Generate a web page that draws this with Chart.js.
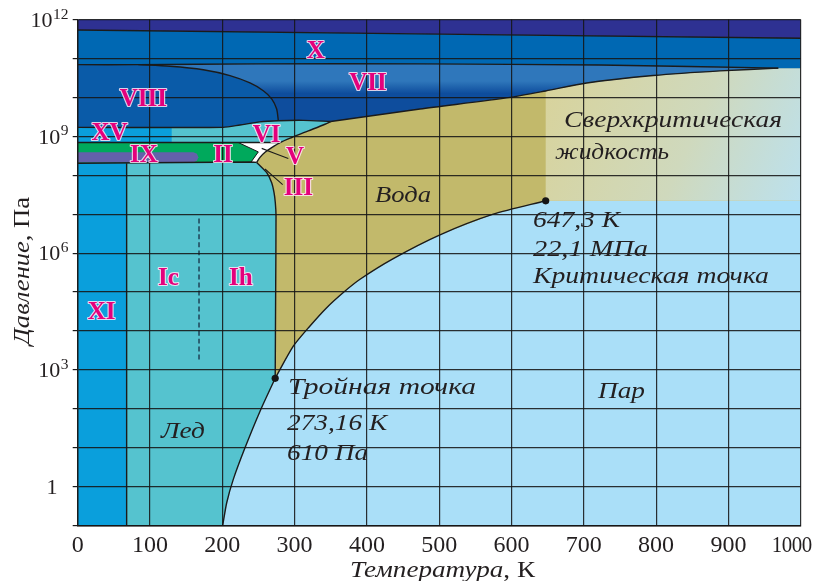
<!DOCTYPE html>
<html lang="ru">
<head>
<meta charset="utf-8">
<title>Фазовая диаграмма воды</title>
<script src="https://cdn.jsdelivr.net/npm/chart.js@4.4.1/dist/chart.umd.min.js"></script>
<style>
  html, body { margin: 0; padding: 0; background: #fff; }
  canvas { display: block; }
</style>
</head>
<body>
<canvas id="phase" width="821" height="581"></canvas>
<script>
// Temperature in K; pressure stored as lg(P / Pa)
const temperatureTicks = [0, 100, 200, 300, 400, 500, 600, 700, 800, 900, 1000];
const pressureDecades = [-1, 0, 1, 2, 3, 4, 5, 6, 7, 8, 9, 10, 11, 12];
const pressureLabelExponents = [0, 3, 6, 9, 12];

const triplePoint = [273.16, Math.log10(610)];      // 273,16 K, 610 Па
const criticalPoint = [647.3, Math.log10(22.1e6)];  // 647,3 K, 22,1 МПа

// Phase boundaries [T, lg P]
const sublimationCurve = [[200.5, -1], [206.1, -0.41], [215.2, 0.19], [231.4, 1.00], [252.2, 1.94], triplePoint];
const vaporizationCurve = [triplePoint, [298.2, 3.61], [321.3, 4.13], [344.4, 4.60], [367.4, 4.99], [390.5, 5.33],
  [436.5, 5.86], [501.1, 6.47], [574.8, 7.00], criticalPoint];
const meltingIhCurve = [triplePoint, [273.8, 5.0], [274.3, 6.96], [273.3, 7.30], [271.5, 7.56], [268.3, 7.81],
  [261.4, 8.07], [247.6, 8.33]];
const meltingHighCurve = [[247.6, 8.33], [252.1, 8.46], [259.1, 8.59], [268.3, 8.71], [279.8, 8.84], [296, 8.97],
  [319, 9.14], [342, 9.31], [350, 9.38]];
const meltingVIICurve = [[350, 9.38], [473.4, 9.70], [597.9, 10.0], [647.3, 10.165], [704, 10.37], [796, 10.56],
  [888.4, 10.68], [969, 10.75]];
const viBaseLine = [[0, 9.23], [201, 9.23], [224.5, 9.29], [252, 9.37], [277.5, 9.40], [312, 9.41], [350, 9.38]];
const viiiDome = [[83.8, 10.84], [127.7, 10.80], [173.7, 10.71], [210.6, 10.56], [238.3, 10.37], [256.7, 10.17],
  [268.3, 9.96], [275.2, 9.70], [277.5, 9.40]];
const xViiLine = [[0, 10.84], [83.8, 10.84], [250, 10.86], [473, 10.86], [722, 10.83], [969, 10.75]];
const topBandLine = [[0, 11.73], [1000, 11.52]];
const iceIITop = [[0, 8.84], [222.1, 8.84], [279.8, 8.84]];
const iceIIBase = [[0, 8.31], [239.8, 8.34], [247.6, 8.33]];
const iceIITip = [[222.1, 8.84], [249.8, 8.60], [239.8, 8.34]];
const iceIXBand = [[0, 8.59], [160, 8.59], [164.9, 8.55], [166.9, 8.46], [164.9, 8.37], [160, 8.33], [0, 8.33]];
const iceXIEdge = 67.7;
const iceXVEdge = 130;
const icIhDivider = [[167.8, 3.27], [167.8, 6.92]];
const pointerV = [[254.5, 8.69], [291.3, 8.43]];
const pointerIII = [[259.1, 8.16], [283.5, 7.76]];

// Text drawn on the diagram
const phaseNames = ['X', 'VII', 'VIII', 'XV', 'IX', 'II', 'VI', 'V', 'III', 'Ic', 'Ih', 'XI'];
const phaseNameAt = [[329.2, 11.23], [401.5, 10.39], [90.7, 9.98], [44.0, 9.11], [91.7, 8.56], [201.0, 8.56],
  [261.4, 9.08], [300.5, 8.51], [305.1, 7.70], [125.6, 5.39], [225.6, 5.39], [33.2, 4.53]];
const noteTexts = ['Вода', 'Сверхкритическая', 'жидкость', '647,3 К', '22,1 МПа', 'Критическая точка',
  'Тройная точка', '273,16 К', '610 Па', 'Пар', 'Лед'];
const noteAt = [[411.3, 7.31], [672.6, 9.23], [660.2, 8.41], [629.7, 6.66], [629.7, 5.93], [629.7, 5.24],
  [290.9, 2.37], [289.5, 1.47], [289.5, 0.70], [719.6, 2.27], [115.2, 1.26]];
const noteWidths = [56, 218, 114, 87, 115, 236, 188, 100, 81, 47, 44];

// ---- helpers ----
const rev = a => a.slice().reverse();
const toPoints = a => a.map(([t, e]) => ({ x: t, y: 10 ** e }));
const SERIF = '"Liberation Serif", "Times New Roman", serif';

function area(poly, color) {
  return { data: toPoints(poly), fill: 'shape', backgroundColor: color, borderWidth: 0,
    borderColor: 'transparent', pointRadius: 0, tension: 0 };
}
function edge(line, width = 1.4, color = '#1b1b1b', dash = [], tension = 0.25) {
  return { data: toPoints(line), fill: false, borderColor: color, borderWidth: width, borderDash: dash,
    pointRadius: 0, tension, borderCapStyle: 'butt', borderJoinStyle: 'round' };
}
function pressureGradient(top, bottom, topColor, bottomColor) {
  return (c) => {
    const ch = c.chart;
    if (!ch.chartArea || !ch.scales.y) return bottomColor;
    const y = ch.scales.y;
    const g = ch.ctx.createLinearGradient(0, y.getPixelForValue(10 ** top), 0, y.getPixelForValue(10 ** bottom));
    g.addColorStop(0, topColor);
    g.addColorStop(1, bottomColor);
    return g;
  };
}
function supercriticalFill(c) {
  const ch = c.chart;
  if (!ch.chartArea || !ch.scales.y) return '#cfd9be';
  const x = ch.scales.x, y = ch.scales.y;
  const g = ch.ctx.createLinearGradient(x.getPixelForValue(criticalPoint[0]), y.getPixelForValue(10 ** 10.2),
    x.getPixelForValue(1000), y.getPixelForValue(10 ** criticalPoint[1]));
  g.addColorStop(0, '#d8d39c');
  g.addColorStop(0.55, '#cfd9bd');
  g.addColorStop(1, '#bce1ee');
  return g;
}

// ---- region polygons ----
const vaporRegion = [[0, -1], [1000, -1], [1000, 12], [0, 12]];
const fluidRegion = [...vaporizationCurve, [1000, criticalPoint[1]], [1000, 10.75], ...rev(meltingVIICurve),
  ...rev(meltingHighCurve), ...rev(meltingIhCurve)];
const supercriticalRegion = [criticalPoint, [1000, criticalPoint[1]], [1000, 10.75],
  ...rev(meltingVIICurve.filter(p => p[0] >= criticalPoint[0]))];
const iceBase = [[0, -1], ...sublimationCurve, ...meltingIhCurve, ...meltingHighCurve, ...rev(viBaseLine)];
const iceXI = [[0, -1], [iceXIEdge, -1], [iceXIEdge, 8.31], [0, 8.31]];
const iceXV = [[0, 8.84], [iceXVEdge, 8.84], [iceXVEdge, 9.23], [0, 9.23]];
const iceV = [[222.1, 8.84], [279.8, 8.84], [268.3, 8.71], [259.1, 8.59], [252.1, 8.46], [247.6, 8.33],
  [239.8, 8.34], [249.8, 8.60]];
const iceII = [[0, 8.84], ...iceIITip, [0, 8.31]];
const iceVII = [...xViiLine, ...rev(meltingVIICurve), ...rev(viBaseLine)];
const iceVIII = [[0, 10.84], ...viiiDome, ...rev(viBaseLine.filter(p => p[0] <= 277.5))];
const iceX = [topBandLine[0], topBandLine[1], [1000, 10.75], ...rev(xViiLine)];
const topBand = [[0, 12], [1000, 12], topBandLine[1], topBandLine[0]];

const layers = [
  area(vaporRegion, '#aadff8'),
  area(fluidRegion, '#c2b96b'),
  area(supercriticalRegion, supercriticalFill),
  area(iceBase, '#55c3cf'),
  area(iceXI, '#0a9fdc'),
  area(iceXV, '#0a9fdc'),
  area(iceV, '#ffffff'),
  area(iceII, '#00a95c'),
  area(iceIXBand, '#6461aa'),
  area(iceVII, pressureGradient(10.42, 10.10, '#2f77bb', '#0e4d9d')),
  area(iceVIII, '#0a5ba8'),
  area(iceX, '#0068b3'),
  area(topBand, '#2e3192'),
  edge(topBandLine),
  edge(xViiLine),
  edge(viiiDome),
  edge(viBaseLine),
  edge(meltingVIICurve),
  edge(meltingHighCurve),
  edge(meltingIhCurve, 1.4, '#1b1b1b', [], 0.15),
  edge(vaporizationCurve),
  edge(sublimationCurve),
  edge(iceIITop, 1.4, '#1b1b1b', [], 0),
  edge(iceIIBase, 1.4, '#1b1b1b', [], 0),
  edge(iceIITip, 1, '#1b1b1b', [], 0),
  edge([[iceXIEdge, -1], [iceXIEdge, 8.31]]),
  edge(icIhDivider, 1.5, '#1f4257', [5, 3]),
  edge(pointerV, 1.1),
  edge(pointerIII, 1.1),
  { data: toPoints([triplePoint, criticalPoint]), showLine: false, pointRadius: 3.6,
    pointBackgroundColor: '#151515', pointBorderWidth: 0, borderColor: 'transparent', fill: false }
];
// first listed layer is painted first
layers.forEach((d, i) => { d.order = layers.length - i; });

// ---- text layer ----
function drawFitted(ctx, text, x, y, width) {
  const w = ctx.measureText(text).width;
  ctx.save();
  ctx.translate(x, y);
  ctx.scale(width / w, 1);
  ctx.fillText(text, 0, 0);
  ctx.restore();
}

const diagramText = {
  id: 'diagramText',
  afterDraw(chart) {
    const { ctx, chartArea: ca } = chart;
    const xs = chart.scales.x, ys = chart.scales.y;
    const px = t => xs.getPixelForValue(t);
    const py = e => ys.getPixelForValue(10 ** e);
    ctx.save();
    ctx.textBaseline = 'alphabetic';

    // x tick labels; the last one is kept inside the canvas
    ctx.fillStyle = '#231f20';
    ctx.font = `24px ${SERIF}`;
    temperatureTicks.forEach((t, i) => {
      const s = String(t);
      if (i === temperatureTicks.length - 1) {
        ctx.textAlign = 'right';
        ctx.letterSpacing = '-0.5px';
        ctx.fillText(s, ca.right + 11, 552.3, 40);
        ctx.letterSpacing = '0px';
      } else {
        ctx.textAlign = 'center';
        ctx.fillText(s, px(t), 552.3);
      }
    });

    // y tick labels: 10 with superscript exponent
    pressureLabelExponents.forEach(e => {
      const yy = py(e);
      if (e === 0) {
        ctx.font = `22px ${SERIF}`;
        ctx.textAlign = 'right';
        ctx.fillText('1', 57.5, yy + 7.5);
        return;
      }
      const sup = String(e);
      ctx.font = `15.5px ${SERIF}`;
      ctx.textAlign = 'right';
      const supW = ctx.measureText(sup).width;
      ctx.fillText(sup, 68.5, yy - 1);
      ctx.font = `22px ${SERIF}`;
      ctx.fillText('10', 68.5 - supW - 0.5, yy + 7.3);
    });

    // axis titles: italic quantity, upright unit
    const titleParts = (a, b, width) => {
      ctx.font = `italic 23px ${SERIF}`;
      const w1 = ctx.measureText(a).width;
      ctx.font = `23px ${SERIF}`;
      const w2 = ctx.measureText(b).width;
      const s = width / (w1 + w2);
      ctx.scale(s, 1);
      ctx.font = `italic 23px ${SERIF}`;
      ctx.fillText(a, 0, 0);
      ctx.font = `23px ${SERIF}`;
      ctx.fillText(b, w1, 0);
    };
    ctx.textAlign = 'left';
    ctx.save();
    ctx.translate(350, 577.3);
    titleParts('Температура', ', К', 185);
    ctx.restore();
    ctx.save();
    ctx.translate(28.5, 345);
    ctx.rotate(-Math.PI / 2);
    titleParts('Давление', ', Па', 148);
    ctx.restore();

    // italic notes
    ctx.font = `italic 23px ${SERIF}`;
    ctx.fillStyle = '#231f20';
    noteTexts.forEach((s, i) => {
      const [t, e] = noteAt[i];
      drawFitted(ctx, s, px(t), py(e), noteWidths[i]);
    });

    // phase names
    ctx.font = `bold 25px ${SERIF}`;
    ctx.textAlign = 'center';
    ctx.lineJoin = 'round';
    phaseNames.forEach((s, i) => {
      const [t, e] = phaseNameAt[i];
      const x = px(t), y = py(e) + 8.3;
      ctx.strokeStyle = 'rgba(255,232,244,0.85)';
      ctx.lineWidth = 2.2;
      ctx.strokeText(s, x, y);
      ctx.fillStyle = '#e4007c';
      ctx.fillText(s, x, y);
    });
    ctx.restore();
  }
};

const gridColor = 'rgba(22,22,22,0.88)';
new Chart(document.getElementById('phase'), {
  type: 'line',
  data: { datasets: layers },
  options: {
    responsive: false,
    animation: false,
    events: [],
    layout: { padding: { left: 0, right: 20.3, top: 19.5, bottom: 0 } },
    plugins: { legend: { display: false }, tooltip: { enabled: false } },
    scales: {
      x: {
        type: 'linear', min: 0, max: 1000,
        ticks: { stepSize: 100, autoSkip: false, callback: () => '' },
        grid: { color: gridColor, lineWidth: 1.2, drawTicks: false, z: 1 },
        border: { display: true, color: '#1b1b1b', width: 1.4, z: 1 },
        afterFit: s => { s.height = 55.3; }
      },
      y: {
        type: 'logarithmic', min: 0.1, max: 1e12,
        afterBuildTicks: s => { s.ticks = pressureDecades.map(e => ({ value: 10 ** e })); },
        ticks: { autoSkip: false, callback: () => '' },
        grid: { color: gridColor, lineWidth: 1.2, drawTicks: true, tickLength: 5, tickColor: '#1b1b1b', z: 1 },
        border: { display: true, color: '#1b1b1b', width: 1.4, z: 1 },
        afterFit: s => { s.width = 77.7; }
      }
    }
  },
  plugins: [diagramText]
});
</script>
</body>
</html>
